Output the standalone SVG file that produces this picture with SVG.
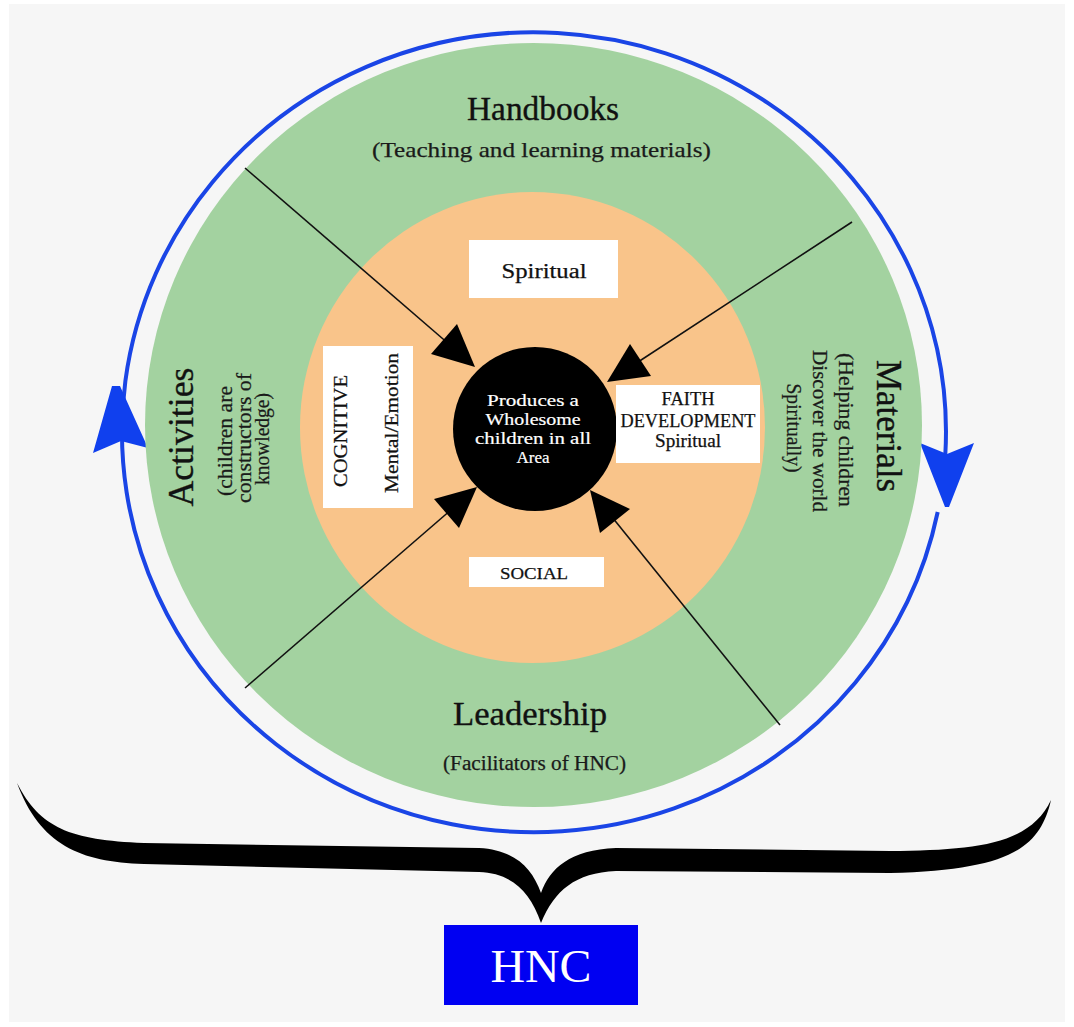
<svg xmlns="http://www.w3.org/2000/svg" width="1074" height="1027" viewBox="0 0 1074 1027">
  <style>
    .serif { font-family: "Liberation Serif", "Times New Roman", serif; }
    .title { font-size: 33px; fill: #111; stroke: #111; stroke-width: 0.35; text-anchor: middle; }
    .sub { font-size: 20px; fill: #1a1a1a; stroke: #1a1a1a; stroke-width: 0.25; text-anchor: middle; }
    .box { fill: #ffffff; }
    .boxtext { font-size: 18px; fill: #111; stroke: #111; stroke-width: 0.25; text-anchor: middle; }
    .core { font-size: 16.5px; fill: #ffffff; stroke: #ffffff; stroke-width: 0.2; text-anchor: middle; }
    .feed { stroke: #111; stroke-width: 1.6; fill: none; }
    .feedhead { fill: #000; }
    .ring { stroke: #1a45e6; stroke-width: 4; fill: none; }
    .ringhead { fill: #1040ee; }
  </style>

  <!-- page -->
  <rect width="1074" height="1027" fill="#ffffff"/>
  <rect x="9" y="4" width="1056" height="1018" fill="#f6f6f6"/>

  <!-- cycle ring with its two direction heads -->
  <g id="cycle">
    <path class="ring" d="M 937.7,512 A 412 400 0 1 1 945.3,455"/>
    <polygon class="ringhead" points="112,386 120,386 148,448 121,441 93,453"/>
    <polygon class="ringhead" points="920,443 947,454 974,443 949,507 945,507"/>
  </g>

  <!-- outer ring: four areas -->
  <g id="areas">
    <ellipse cx="533.5" cy="425" rx="388.5" ry="382" fill="#a3d2a0"/>
  </g>

  <!-- inner ring: development -->
  <g id="development">
    <ellipse cx="532.5" cy="427.5" rx="232.5" ry="235.5" fill="#f9c48a"/>
  </g>

  <!-- feeding arrows from the four areas to the centre -->
  <g id="connectors">
    <line class="feed" x1="245" y1="168" x2="450" y2="345"/>
    <polygon class="feedhead" points="475,367 431,354 457,324"/>
    <line class="feed" x1="852" y1="222" x2="635" y2="364"/>
    <polygon class="feedhead" points="607,382 651,376 630,344"/>
    <line class="feed" x1="245" y1="688" x2="452" y2="509"/>
    <polygon class="feedhead" points="477,487 459,528 434,499"/>
    <line class="feed" x1="780" y1="725" x2="612" y2="517"/>
    <polygon class="feedhead" points="590,490 630,509 600,533"/>
  </g>

  <!-- centre -->
  <g id="centre">
    <circle cx="535" cy="429" r="82" fill="#000"/>
    <text class="serif core" x="533" y="406" textLength="92" lengthAdjust="spacingAndGlyphs">Produces a</text>
    <text class="serif core" x="533" y="425" textLength="95" lengthAdjust="spacingAndGlyphs">Wholesome</text>
    <text class="serif core" x="533" y="444" textLength="116" lengthAdjust="spacingAndGlyphs">children in all</text>
    <text class="serif core" x="533" y="463" textLength="33" lengthAdjust="spacingAndGlyphs">Area</text>
  </g>

  <!-- area labels -->
  <g id="handbooks">
    <text class="serif title" x="543" y="120" textLength="152" lengthAdjust="spacingAndGlyphs">Handbooks</text>
    <text class="serif sub" x="541.5" y="157" style="font-size:22px" textLength="339" lengthAdjust="spacingAndGlyphs">(Teaching and learning materials)</text>
  </g>

  <g id="leadership">
    <text class="serif title" x="530" y="725" textLength="154" lengthAdjust="spacingAndGlyphs">Leadership</text>
    <text class="serif sub" x="534.5" y="770" textLength="183" lengthAdjust="spacingAndGlyphs">(Facilitators of HNC)</text>
  </g>

  <g id="activities">
    <text class="serif title" transform="translate(193,437) rotate(-90)" style="font-size:36px" textLength="139" lengthAdjust="spacingAndGlyphs">Activities</text>
    <text class="serif sub" transform="translate(232,441) rotate(-90)" textLength="110" lengthAdjust="spacingAndGlyphs">(children are</text>
    <text class="serif sub" transform="translate(251,438) rotate(-90)" textLength="130" lengthAdjust="spacingAndGlyphs">constructors of</text>
    <text class="serif sub" transform="translate(269,439) rotate(-90)" textLength="92" lengthAdjust="spacingAndGlyphs">knowledge)</text>
  </g>

  <g id="materials">
    <text class="serif title" transform="translate(877,426) rotate(90)" style="font-size:35px" textLength="132" lengthAdjust="spacingAndGlyphs">Materials</text>
    <text class="serif sub" transform="translate(839,430) rotate(90)" textLength="154" lengthAdjust="spacingAndGlyphs">(Helping children</text>
    <text class="serif sub" transform="translate(813,431) rotate(90)" textLength="162" lengthAdjust="spacingAndGlyphs">Discover the world</text>
    <text class="serif sub" transform="translate(787,428) rotate(90)" textLength="89" lengthAdjust="spacingAndGlyphs">Spiritually)</text>
  </g>

  <!-- development boxes -->
  <g id="spiritual">
    <rect class="box" x="469" y="240" width="149" height="58"/>
    <text class="serif boxtext" x="544" y="278" style="font-size:20px" textLength="85" lengthAdjust="spacingAndGlyphs">Spiritual</text>
  </g>

  <g id="cognitive">
    <rect class="box" x="323" y="346" width="90" height="162"/>
    <text class="serif boxtext" transform="translate(347,431) rotate(-90)" style="font-size:19px" textLength="112" lengthAdjust="spacingAndGlyphs">COGNITIVE</text>
    <text class="serif boxtext" transform="translate(398,423) rotate(-90)" style="font-size:19px" textLength="140" lengthAdjust="spacingAndGlyphs">Mental/Emotion</text>
  </g>

  <g id="faith">
    <rect class="box" x="616" y="385" width="144" height="78"/>
    <text class="serif boxtext" x="688" y="405" textLength="53" lengthAdjust="spacingAndGlyphs">FAITH</text>
    <text class="serif boxtext" x="688" y="426.5" textLength="135" lengthAdjust="spacingAndGlyphs">DEVELOPMENT</text>
    <text class="serif boxtext" x="688" y="447" textLength="66" lengthAdjust="spacingAndGlyphs">Spiritual</text>
  </g>

  <g id="social">
    <rect class="box" x="469" y="557" width="135" height="30"/>
    <text class="serif boxtext" x="534" y="579" style="font-size:17px" textLength="68" lengthAdjust="spacingAndGlyphs">SOCIAL</text>
  </g>

  <!-- brace gathering everything into HNC -->
  <g id="brace">
    <path fill="#000" d="M 17,783 C 40,828 70,840 144,843 L 479,848 C 515,850 532,868 541,893 C 550,868 570,850 616,848 L 890,851 C 975,850 1030,845 1051,800 C 1040,848 1010,870 890,873 L 616,871 C 575,873 555,890 541,923 C 530,890 510,873 479,872 L 144,864 C 80,862 40,845 17,783 Z"/>
  </g>

  <g id="hnc">
    <rect x="444" y="925" width="194" height="80" fill="#0000f2"/>
    <text class="serif" x="541" y="982" fill="#ffffff" text-anchor="middle" style="font-size:46px" textLength="101" lengthAdjust="spacingAndGlyphs">HNC</text>
  </g>
</svg>
